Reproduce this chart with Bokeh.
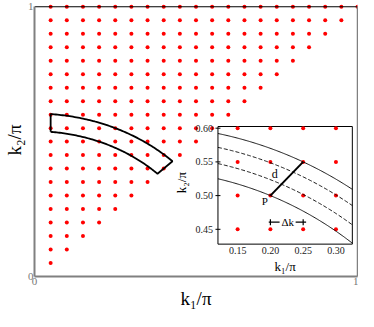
import numpy as np
from bokeh.plotting import figure
from bokeh.models import Range1d, FixedTicker, LinearAxis
from bokeh.core.properties import value
from bokeh.embed import file_html
from bokeh.resources import INLINE

# ---------------- data ----------------
# allowed lattice momenta k/pi (main panel), points drawn where k1 <= k2
k_values = [0.05, 0.10, 0.15, 0.20, 0.25, 0.30, 0.35, 0.40, 0.45, 0.50,
            0.55, 0.60, 0.65, 0.70, 0.75, 0.80, 0.85, 0.90, 0.95, 1.00]
main_ticks = [0, 1]
main_tick_labels = ["0", "1"]

# inset lattice points
inset_k1 = [0.15, 0.20, 0.25, 0.30]
inset_k2 = [0.45, 0.50, 0.55, 0.60]
inset_xticks = [0.15, 0.20, 0.25, 0.30]
inset_xtick_labels = ["0.15", "0.20", "0.25", "0.30"]
inset_yticks = [0.45, 0.50, 0.55, 0.60]
inset_ytick_labels = ["0.45", "0.50", "0.55", "0.60"]

# point P and its neighbour defining the shell of width d
P = (0.20, 0.50)
Q = (0.25, 0.55)
dashed_radii = [0.5605, 0.5840]
band_k1_start = 0.05

# Δk marker
dk_y = 0.4605
dk_left = [0.1975, 0.2385]
dk_right = [0.2140, 0.2545]
dk_ticks = [0.20, 0.25]

# ---------------- layout values ----------------
FONT = "Liberation Serif"
main_x = (0.0, 1.0)
main_y = (0.0, 1.012)
box_x = (0.568, 0.984)     # inset frame in main coordinates
box_y = (0.120, 0.556)
ix = (0.12, 0.325)         # inset data range
iy = (0.428, 0.6025)
AXIS_GRAY = "gray"


def extra_range(main, box, inner):
    s = (inner[1] - inner[0]) / (box[1] - box[0])
    return Range1d(inner[0] - (box[0] - main[0]) * s, inner[0] + (main[1] - box[0]) * s)


p = figure(width=358, height=311, x_range=Range1d(*main_x), y_range=Range1d(*main_y),
           output_backend="svg", toolbar_location=None,
           min_border_left=4, min_border_right=1, min_border_top=3, min_border_bottom=4)
p.extra_x_ranges = {"inset": extra_range(main_x, box_x, ix)}
p.extra_y_ranges = {"inset": extra_range(main_y, box_y, iy)}
p.grid.visible = False
p.outline_line_color = None
p.background_fill_color = "white"

# right-hand frame edge as an unlabeled axis
right_axis = LinearAxis(ticker=FixedTicker(ticks=[]), bounds=(0.0, 1.0),
                        major_label_text_font_size="0px", axis_line_color=AXIS_GRAY,
                        axis_line_width=1.5, major_tick_out=0, major_tick_in=0,
                        minor_tick_out=0, minor_tick_in=0, major_label_standoff=0)
p.add_layout(right_axis, "right")

for ax in (p.xaxis[0], p.yaxis[0]):
    ax.ticker = FixedTicker(ticks=main_ticks)
    ax.major_label_overrides = {t: l for t, l in zip(main_ticks, main_tick_labels)}
    ax.bounds = (0.0, 1.0)
    ax.major_tick_line_color = None
    ax.minor_tick_line_color = None
    ax.major_tick_out = 0
    ax.major_tick_in = 0
    ax.minor_tick_out = 0
    ax.minor_tick_in = 0
    ax.axis_line_color = AXIS_GRAY
    ax.axis_line_width = 2
    ax.major_label_text_font = FONT
    ax.major_label_text_font_size = "11px"
    ax.major_label_text_color = "#777777"
    ax.major_label_standoff = 1
    ax.axis_label_text_font = FONT
    ax.axis_label_text_font_size = "19px"
    ax.axis_label_text_font_style = "normal"
    ax.axis_label_text_color = "black"
    ax.axis_label_standoff = 0
p.xaxis[0].axis_label = "k\u2081/\u03c0"
p.yaxis[0].axis_label = "k\u2082/\u03c0"

# main lattice points
mx = [a for b in k_values for a in k_values if a <= b]
my = [b for b in k_values for a in k_values if a <= b]
p.scatter(x=mx, y=my, size=4, color="red", line_color=None)

# shell band in main panel
r_in = np.hypot(*P)
r_out = np.hypot(*Q)
th_in = np.linspace(np.arccos(band_k1_start / r_in), np.pi / 4, 80)
th_out = np.linspace(np.pi / 4, np.arccos(band_k1_start / r_out), 80)
bx = np.concatenate([r_in * np.cos(th_in), r_out * np.cos(th_out)])
by = np.concatenate([r_in * np.sin(th_in), r_out * np.sin(th_out)])
bx = np.append(bx, bx[0])
by = np.append(by, by[0])
p.line(x=bx, y=by, line_color="black", line_width=1.8)

# ---------------- inset ----------------
kw = dict(x_range_name="inset", y_range_name="inset")
p.quad(left=ix[0], right=ix[1], bottom=iy[0], top=iy[1], fill_color="white",
       line_color="black", line_width=1, **kw)
gx = [a for b in inset_k2 for a in inset_k1]
gy = [b for b in inset_k2 for a in inset_k1]
p.scatter(x=gx, y=gy, size=4, color="red", line_color=None, **kw)

cx = np.linspace(ix[0], ix[1], 120)
for r, dash in [(r_in, "solid"), (dashed_radii[0], "4 2"), (dashed_radii[1], "4 2"), (r_out, "solid")]:
    p.line(x=cx, y=np.sqrt(r ** 2 - cx ** 2), line_color="black", line_width=0.9,
           line_dash=dash, **kw)

p.line(x=[P[0], Q[0]], y=[P[1], Q[1]], line_color="black", line_width=2, **kw)
p.segment(x0=dk_left, y0=[dk_y] * 2, x1=dk_right, y1=[dk_y] * 2, line_color="black",
          line_width=1.2, **kw)
p.segment(x0=dk_ticks, y0=[dk_y - 0.0045] * 2, x1=dk_ticks, y1=[dk_y + 0.0045] * 2,
          line_color="black", line_width=1.2, **kw)

p.text(x=[0.2066], y=[0.532], text=["d"], text_font=value(FONT), text_font_size="12px",
       text_align="center", text_baseline="middle", text_color="black", **kw)
p.text(x=[0.1915], y=[0.4925], text=["P"], text_font=value(FONT), text_font_size="11px",
       text_align="center", text_baseline="middle", text_color="black", **kw)
p.text(x=[0.2265], y=[dk_y], text=["\u0394k"], text_font=value(FONT), text_font_size="11px",
       text_align="center", text_baseline="middle", text_color="black", **kw)

# inset tick labels
p.text(x=inset_xticks, y=[iy[0]] * 4, text=inset_xtick_labels, text_font=value(FONT),
       text_font_size="10px", text_align="center", text_baseline="top", y_offset=3,
       text_color="#222222", **kw)
p.text(x=[ix[0]] * 4, y=inset_yticks, text=inset_ytick_labels, text_font=value(FONT),
       text_font_size="10px", text_align="right", text_baseline="middle", x_offset=-5,
       text_color="#222222", **kw)
p.scatter(x=[ix[0]] * 4, y=inset_yticks, marker="dash", size=5, line_color="black",
          line_width=1, **kw)

# inset axis labels
p.text(x=[(ix[0] + ix[1]) / 2], y=[iy[0]], text=["k\u2081/\u03c0"], text_font=value(FONT),
       text_font_size="13px", text_align="center", text_baseline="top", y_offset=15,
       text_color="black", **kw)
p.text(x=[ix[0]], y=[(iy[0] + iy[1]) / 2 + 0.004], text=["k\u2082/\u03c0"], text_font=value(FONT),
       text_font_size="13px", text_align="center", text_baseline="bottom", x_offset=-29,
       angle=np.pi / 2, text_color="black", **kw)

# top frame edge (black)
p.segment(x0=[0.0], y0=[1.0], x1=[1.0], y1=[1.0], line_color="black", line_width=1.2)

open("out.html", "w").write(file_html(p, INLINE))
